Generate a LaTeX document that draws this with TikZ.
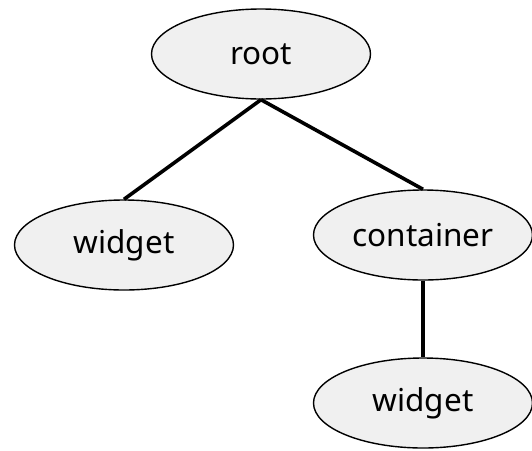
\documentclass[tikz,border=0pt]{standalone}
\usepackage{fontspec}
\setmainfont{Noto Sans}
\usetikzlibrary{shapes.geometric}
\begin{document}
\begin{tikzpicture}[x=1pt,y=-1pt,
  treenode/.style={ellipse, draw=black, line width=1.4pt, fill=black!6,
    minimum width=219pt, minimum height=90pt, inner sep=0pt,
    font=\fontsize{31.5}{36}\selectfont},
  edge/.style={line width=3.6pt}]
  \useasboundingbox (0,0) rectangle (532,450);
  \node[treenode] (root) at (261,54) {root};
  \node[treenode] (w1) at (124,245) {widget};
  \node[treenode] (cont) at (423,235) {container};
  \node[treenode] (w2) at (423,403) {widget};
  \draw[edge] (root.south) -- (w1.north);
  \draw[edge] (root.south) -- (cont.north);
  \draw[edge] (cont.south) -- (w2.north);
\end{tikzpicture}
\end{document}
